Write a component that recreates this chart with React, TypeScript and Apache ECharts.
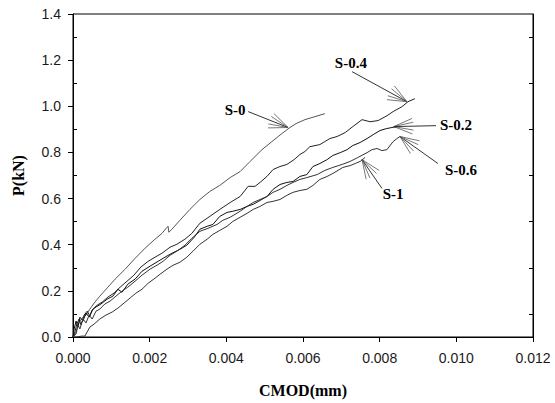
import React, { useEffect, useRef } from "react";
import * as echarts from "echarts";

// CMOD (mm) and load P (kN) for each specimen
const cmodS0 = [0, 0.00008, 0.00013, 0.00018, 0.00026, 0.00034, 0.00044, 0.00057, 0.0007, 0.00091, 0.0011, 0.00136, 0.00162, 0.00188, 0.00214, 0.00232, 0.00243, 0.00248, 0.0025, 0.00258, 0.00279, 0.00305, 0.00331, 0.00357, 0.00383, 0.0041, 0.00436, 0.00462, 0.00493, 0.00519, 0.00545, 0.00566, 0.00582, 0.00605, 0.00631, 0.00657];
const loadS0 = [0, 0.022, 0.052, 0.069, 0.086, 0.095, 0.121, 0.151, 0.177, 0.216, 0.251, 0.294, 0.341, 0.385, 0.424, 0.449, 0.471, 0.48, 0.454, 0.467, 0.506, 0.553, 0.596, 0.631, 0.657, 0.691, 0.717, 0.761, 0.812, 0.847, 0.882, 0.908, 0.925, 0.942, 0.955, 0.968];

const cmodS04 = [0, 0.00005, 0.0001, 0.00016, 0.00021, 0.00029, 0.00037, 0.00044, 0.00052, 0.00063, 0.00076, 0.00091, 0.00107, 0.00123, 0.00141, 0.00159, 0.00177, 0.00196, 0.00214, 0.00232, 0.00253, 0.00271, 0.00292, 0.0031, 0.00331, 0.00357, 0.00383, 0.0041, 0.00436, 0.00457, 0.00475, 0.00488, 0.00506, 0.00522, 0.0054, 0.00558, 0.00577, 0.00592, 0.00605, 0.00618, 0.00644, 0.00657, 0.0067, 0.00689, 0.0071, 0.0073, 0.00754, 0.00775, 0.00796, 0.00819, 0.00835, 0.00858, 0.00874, 0.00892];
const loadS04 = [0, 0.022, 0.056, 0.078, 0.052, 0.095, 0.112, 0.091, 0.121, 0.138, 0.151, 0.173, 0.19, 0.216, 0.242, 0.268, 0.303, 0.328, 0.346, 0.363, 0.389, 0.402, 0.424, 0.449, 0.493, 0.523, 0.553, 0.583, 0.609, 0.653, 0.653, 0.67, 0.696, 0.726, 0.739, 0.748, 0.769, 0.791, 0.804, 0.825, 0.834, 0.847, 0.86, 0.869, 0.886, 0.912, 0.942, 0.933, 0.938, 0.959, 0.977, 0.998, 1.02, 1.033];

const cmodS02 = [0, 0.00003, 0.00008, 0.00013, 0.00018, 0.00026, 0.00034, 0.00042, 0.0005, 0.0006, 0.00073, 0.00089, 0.00104, 0.00117, 0.00128, 0.00143, 0.00162, 0.0018, 0.00201, 0.00222, 0.0024, 0.00258, 0.00279, 0.00297, 0.00316, 0.00331, 0.0035, 0.00365, 0.00383, 0.00402, 0.00417, 0.00436, 0.00454, 0.0047, 0.00488, 0.00506, 0.00522, 0.0054, 0.00558, 0.00574, 0.00592, 0.0061, 0.00626, 0.00644, 0.00663, 0.00678, 0.00697, 0.00715, 0.0073, 0.00749, 0.00767, 0.00783, 0.00801, 0.00817, 0.00832, 0.00845];
const loadS02 = [0, 0.035, 0.069, 0.043, 0.086, 0.069, 0.104, 0.086, 0.117, 0.13, 0.143, 0.164, 0.177, 0.207, 0.194, 0.229, 0.251, 0.285, 0.307, 0.328, 0.346, 0.363, 0.38, 0.398, 0.432, 0.467, 0.48, 0.488, 0.523, 0.54, 0.545, 0.553, 0.566, 0.575, 0.592, 0.609, 0.64, 0.661, 0.67, 0.674, 0.696, 0.704, 0.739, 0.752, 0.769, 0.787, 0.799, 0.812, 0.83, 0.843, 0.86, 0.877, 0.895, 0.903, 0.908, 0.912];

const cmodS06 = [0, 0.00008, 0.00013, 0.00018, 0.00026, 0.00034, 0.00042, 0.0005, 0.0006, 0.0007, 0.00083, 0.00097, 0.00112, 0.00128, 0.00143, 0.00162, 0.0018, 0.00201, 0.00219, 0.00235, 0.00253, 0.00271, 0.00292, 0.0031, 0.00331, 0.00352, 0.00376, 0.00391, 0.0041, 0.00436, 0.00454, 0.0047, 0.00488, 0.00506, 0.00522, 0.0054, 0.00558, 0.00574, 0.00592, 0.0061, 0.00637, 0.00657, 0.00678, 0.00702, 0.00723, 0.00743, 0.00767, 0.0078, 0.00793, 0.00806, 0.00819, 0.00835, 0.00845, 0.00853];
const loadS06 = [0, 0.013, 0.052, 0.035, 0.078, 0.061, 0.095, 0.078, 0.112, 0.121, 0.143, 0.156, 0.177, 0.199, 0.216, 0.242, 0.268, 0.294, 0.311, 0.328, 0.354, 0.372, 0.398, 0.428, 0.458, 0.471, 0.488, 0.506, 0.519, 0.545, 0.566, 0.583, 0.596, 0.609, 0.627, 0.64, 0.657, 0.67, 0.683, 0.691, 0.704, 0.722, 0.735, 0.748, 0.761, 0.778, 0.799, 0.812, 0.817, 0.808, 0.812, 0.847, 0.86, 0.869];

const cmodS1 = [0, 0.0001, 0.00023, 0.00031, 0.00037, 0.00044, 0.00055, 0.0007, 0.00086, 0.00102, 0.00117, 0.00133, 0.00149, 0.00164, 0.0018, 0.00196, 0.00214, 0.00227, 0.00245, 0.00261, 0.00279, 0.00297, 0.00313, 0.00331, 0.0035, 0.00365, 0.00383, 0.00402, 0.00417, 0.00436, 0.00454, 0.0047, 0.00488, 0.00506, 0.00522, 0.0054, 0.00558, 0.00574, 0.00592, 0.0061, 0.00626, 0.00644, 0.00663, 0.00678, 0.00704, 0.00723, 0.00736, 0.00749, 0.00762];
const loadS1 = [0, 0, 0.004, 0.004, 0.022, 0.043, 0.056, 0.078, 0.095, 0.108, 0.125, 0.147, 0.169, 0.19, 0.207, 0.233, 0.255, 0.272, 0.294, 0.311, 0.324, 0.346, 0.372, 0.402, 0.424, 0.445, 0.462, 0.48, 0.501, 0.519, 0.536, 0.553, 0.566, 0.583, 0.588, 0.596, 0.614, 0.627, 0.635, 0.64, 0.657, 0.683, 0.696, 0.709, 0.735, 0.743, 0.752, 0.761, 0.778];

// tick values
const xTicks = [0, 0.002, 0.004, 0.006, 0.008, 0.01, 0.012];
const yTicks = [0, 0.2, 0.4, 0.6, 0.8, 1.0, 1.2, 1.4];
const yMinorTicks = [0.1, 0.3, 0.5, 0.7, 0.9, 1.1, 1.3];

// annotation labels (data coordinates): label centre, arrow tail, arrow tip
const annoNames = ["S-0", "S-0.4", "S-0.2", "S-0.6", "S-1"];
const annoLabel = [[0.00423, 0.985], [0.00725, 1.188], [0.00999, 0.92], [0.01012, 0.722], [0.00835, 0.618]];
const annoTail = [[0.00457, 0.977], [0.00728, 1.15], [0.00947, 0.916], [0.00952, 0.752], [0.00806, 0.644]];
const annoTip = [[0.00561, 0.908], [0.00871, 1.02], [0.00837, 0.912], [0.00853, 0.869], [0.00754, 0.769]];

const zip = (xs: number[], ys: number[]) => xs.map((x, i) => [x, ys[i]]);

export default function App() {
  const ref = useRef<HTMLDivElement>(null);
  useEffect(() => {
    document.body.style.margin = "0";
    const chart = echarts.init(ref.current!, null, { renderer: "svg" });
    const seriesDefs = [
      { name: "S-0", data: zip(cmodS0, loadS0), color: "#555555" },
      { name: "S-0.4", data: zip(cmodS04, loadS04), color: "#222222" },
      { name: "S-0.2", data: zip(cmodS02, loadS02), color: "#111111" },
      { name: "S-0.6", data: zip(cmodS06, loadS06), color: "#333333" },
      { name: "S-1", data: zip(cmodS1, loadS1), color: "#333333" },
    ];
    const labelFont = "Liberation Sans, Arial, sans-serif";
    const titleFont = "Liberation Serif, Times New Roman, serif";
    chart.setOption({
      animation: false,
      backgroundColor: "#ffffff",
      grid: { left: 73, right: 22, top: 14, bottom: 65, show: true, borderColor: "#000", borderWidth: 1 },
      xAxis: {
        type: "value",
        min: 0,
        max: 0.012,
        interval: 0.002,
        name: "CMOD(mm)",
        nameLocation: "middle",
        nameGap: 45,
        nameTextStyle: { fontFamily: titleFont, fontWeight: "bold", fontSize: 16, color: "#000" },
        axisLine: { show: true, onZero: false, lineStyle: { color: "#000", width: 1 } },
        axisTick: { show: true, inside: false, length: 5, lineStyle: { color: "#000" }, customValues: xTicks },
        axisLabel: { margin: 14, fontFamily: labelFont, fontSize: 14, color: "#1a1a1a", formatter: (v: number) => v.toFixed(3), customValues: xTicks },
        splitLine: { show: false },
      },
      yAxis: [
        {
          type: "value",
          min: 0,
          max: 1.4,
          interval: 0.2,
          name: "P(kN)",
          nameLocation: "middle",
          nameGap: 47,
          nameRotate: 90,
          nameTextStyle: { fontFamily: titleFont, fontWeight: "bold", fontSize: 16, color: "#000" },
          axisLine: { show: true, onZero: false, lineStyle: { color: "#000", width: 1 } },
          axisTick: { show: true, inside: false, length: 5, lineStyle: { color: "#000" }, customValues: yTicks },
          axisLabel: { margin: 12, fontFamily: labelFont, fontSize: 14, color: "#1a1a1a", formatter: (v: number) => v.toFixed(1), customValues: yTicks },
          splitLine: { show: false },
        },
        {
          type: "value",
          position: "left",
          min: 0,
          max: 1.4,
          interval: 0.2,
          axisLine: { show: false },
          axisTick: { show: true, inside: true, length: 4, lineStyle: { color: "#000" }, customValues: yMinorTicks },
          axisLabel: { show: false },
          splitLine: { show: false },
        },
        {
          type: "value",
          position: "right",
          min: 0,
          max: 1.4,
          interval: 0.2,
          axisLine: { show: true, lineStyle: { color: "#000" } },
          axisTick: { show: true, inside: true, length: 4, lineStyle: { color: "#000" }, customValues: yMinorTicks },
          axisLabel: { show: false },
          splitLine: { show: false },
        },
      ],
      series: seriesDefs.map((s) => ({
        type: "line",
        name: s.name,
        data: s.data,
        showSymbol: false,
        symbol: "none",
        lineStyle: { color: s.color, width: 1 },
        emphasis: { disabled: true },
      })),
    });

    const graphics: any[] = [];
    annoNames.forEach((name, i) => {
      const lp = chart.convertToPixel({ gridIndex: 0 }, annoLabel[i]) as number[];
      const tp = chart.convertToPixel({ gridIndex: 0 }, annoTail[i]) as number[];
      const hp = chart.convertToPixel({ gridIndex: 0 }, annoTip[i]) as number[];
      graphics.push({
        type: "text",
        x: lp[0],
        y: lp[1],
        style: { text: name, font: `bold 15px ${titleFont}`, fill: "#000", align: "center", verticalAlign: "middle" },
      });
      graphics.push({
        type: "line",
        shape: { x1: tp[0], y1: tp[1], x2: hp[0], y2: hp[1] },
        style: { stroke: "#333", lineWidth: 1 },
      });
      const ang = Math.atan2(tp[1] - hp[1], tp[0] - hp[0]);
      [-0.4, -0.2, 0.2, 0.4].forEach((d) => {
        const L = 20;
        graphics.push({
          type: "line",
          shape: { x1: hp[0], y1: hp[1], x2: hp[0] + L * Math.cos(ang + d), y2: hp[1] + L * Math.sin(ang + d) },
          style: { stroke: "#555", lineWidth: 0.8 },
        });
      });
    });
    chart.setOption({ graphic: graphics });
    return () => chart.dispose();
  }, []);
  return <div ref={ref} style={{ width: 555, height: 403 }} />;
}
